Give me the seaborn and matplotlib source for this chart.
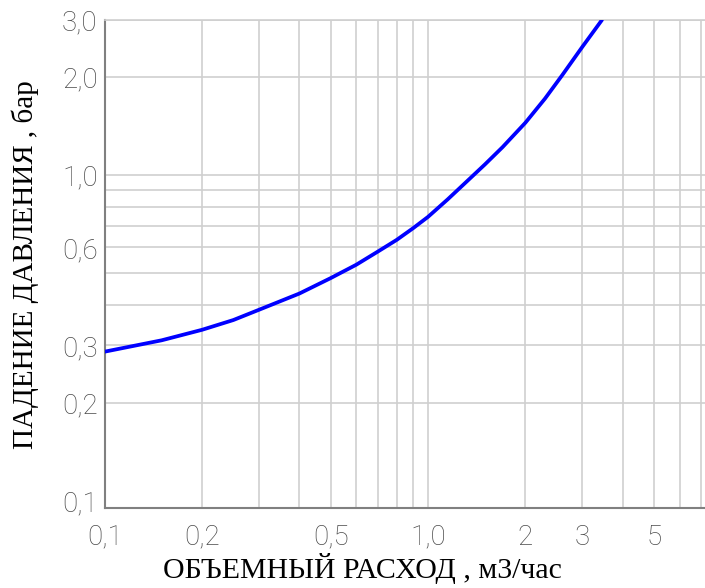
import matplotlib
matplotlib.use("Agg")
import matplotlib.pyplot as plt
import matplotlib.ticker as mticker
import seaborn as sns
import pandas as pd

# Data
flow = [0.1, 0.15, 0.2, 0.25, 0.3, 0.4, 0.5, 0.6, 0.7, 0.8, 0.9, 1.0, 1.15, 1.3, 1.5, 1.7,
        2.0, 2.3, 2.6, 3.0, 3.45]
pressure = [0.287, 0.311, 0.335, 0.359, 0.386, 0.433, 0.483, 0.531, 0.583, 0.633, 0.688, 0.745,
            0.843, 0.945, 1.08, 1.22, 1.45, 1.72, 2.03, 2.48, 3.0]

x_ticks = [0.1, 0.2, 0.5, 1.0, 2, 3, 5]
x_tick_labels = ["0,1", "0,2", "0,5", "1,0", "2", "3", "5"]
y_ticks = [0.1, 0.2, 0.3, 0.6, 1.0, 2.0, 3.0]
y_tick_labels = ["0,1", "0,2", "0,3", "0,6", "1,0", "2,0", "3,0"]
x_grid = [0.2, 0.3, 0.4, 0.5, 0.6, 0.7, 0.8, 0.9, 1, 2, 3, 4, 5, 6, 7]
y_grid = [0.2, 0.3, 0.4, 0.5, 0.6, 0.7, 0.8, 0.9, 1, 2, 3]

x_label = "ОБЪЕМНЫЙ РАСХОД , м3/час"
y_label = "ПАДЕНИЕ ДАВЛЕНИЯ , бар"

sns.set_theme(style="white")
plt.rcParams['font.family'] = ['DejaVu Sans']

df = pd.DataFrame({"flow": flow, "pressure": pressure})

fig = plt.figure(figsize=(7.05, 5.88), dpi=100)
ax = fig.add_axes([0.1485, 0.1355, 0.8515, 0.8304])

ax.set_xscale("log")
ax.set_yscale("log")
ax.set_xlim(0.1, 7.19)
ax.set_ylim(0.0947, 3.0)

# grid lines via minor ticks (kept even where they coincide with major ticks)
ax.xaxis.remove_overlapping_locs = False
ax.yaxis.remove_overlapping_locs = False
ax.xaxis.set_minor_locator(mticker.FixedLocator(x_grid))
ax.yaxis.set_minor_locator(mticker.FixedLocator(y_grid))
ax.xaxis.set_minor_formatter(mticker.NullFormatter())
ax.yaxis.set_minor_formatter(mticker.NullFormatter())
ax.grid(which="minor", color="#cfcfcf", linewidth=1.2)
ax.grid(which="major", visible=False)
ax.set_axisbelow(True)

sns.lineplot(data=df, x="flow", y="pressure", ax=ax, color="#0000ff",
             linewidth=2.7, zorder=5)

ax.set_xticks(x_ticks)
ax.set_xticklabels(x_tick_labels)
ax.set_yticks(y_ticks)
ax.set_yticklabels(y_tick_labels)
ax.tick_params(which="both", length=0)
ax.tick_params(axis="x", pad=11)
ax.tick_params(axis="y", pad=5)
for lbl in ax.get_xticklabels() + ax.get_yticklabels():
    lbl.set_fontfamily(["Roboto", "DejaVu Sans"])
    lbl.set_fontweight("light")
    lbl.set_fontsize(20)
    lbl.set_color("#4a4a4a")

for side in ["left", "bottom"]:
    ax.spines[side].set_color("#808080")
    ax.spines[side].set_linewidth(1.5)
ax.spines["right"].set_visible(False)
ax.spines["top"].set_color("#cfcfcf")
ax.spines["top"].set_linewidth(1.2)

ax.set_xlabel(x_label, fontfamily=["Liberation Serif"], fontsize=21.5, color="black")
ax.set_ylabel(y_label, fontfamily=["Liberation Serif"], fontsize=21, color="black")
ax.xaxis.set_label_coords(0.43, -0.1225)
ax.xaxis.label.set_va("center")
ax.yaxis.set_label_coords(-0.132, 0.5)
ax.yaxis.label.set_va("center")

fig.savefig("out.png", dpi=100, facecolor="white")
